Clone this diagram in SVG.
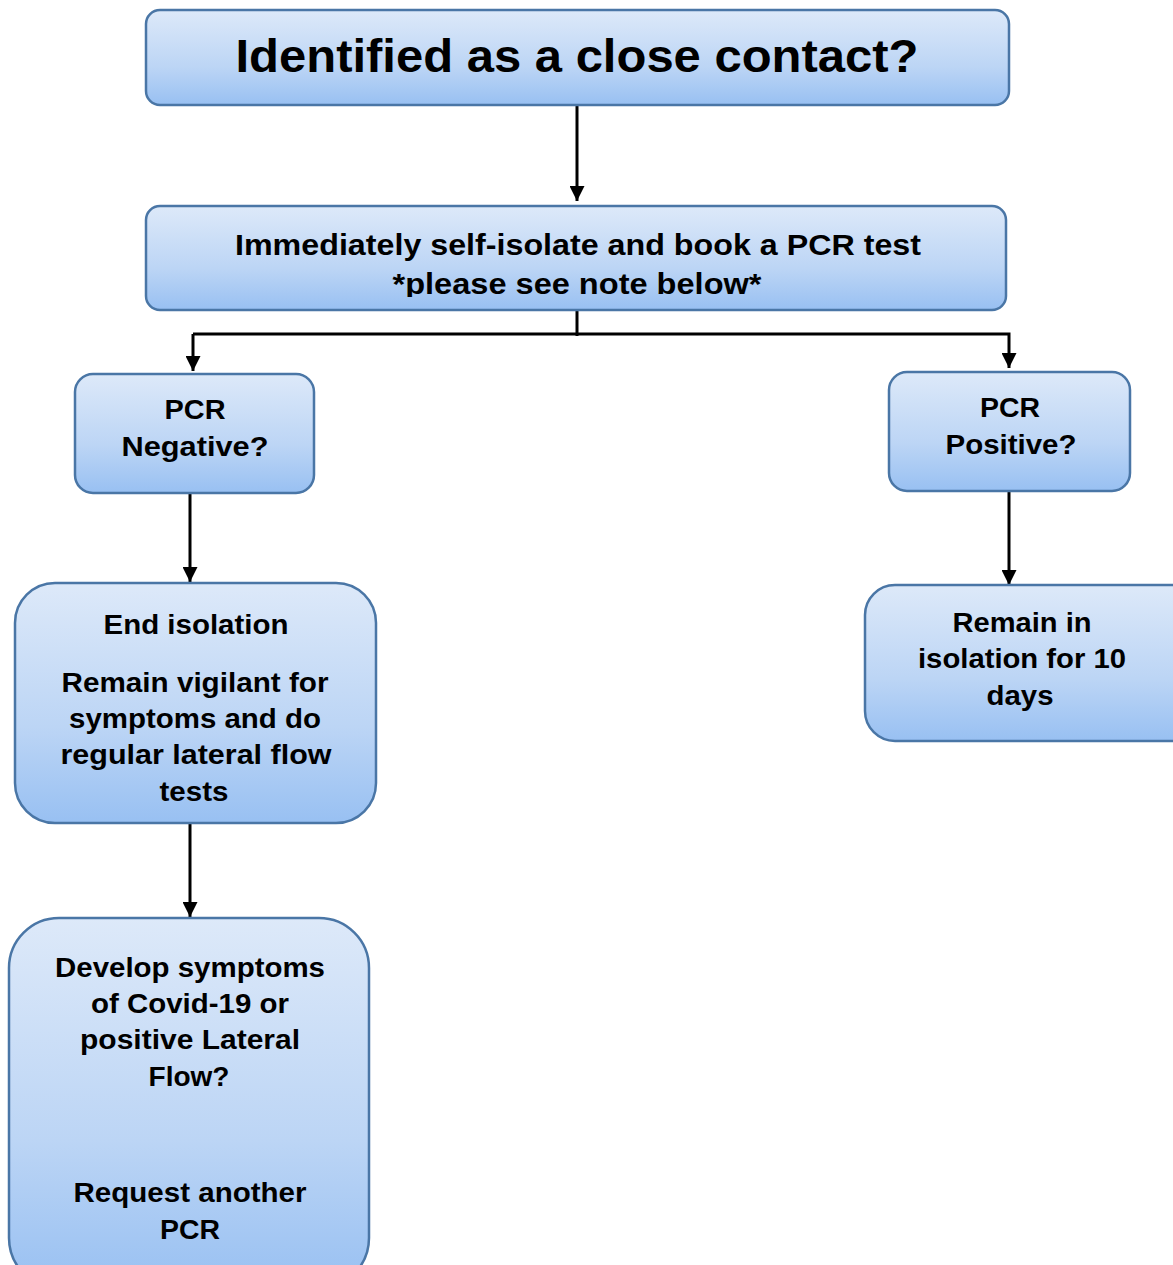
<svg xmlns="http://www.w3.org/2000/svg" width="1173" height="1265" viewBox="0 0 1173 1265">
<style>
.box{fill:url(#g);stroke:#4a76a6;stroke-width:2.5}
.t{font-family:"Liberation Sans",Arial,sans-serif;font-weight:bold;fill:#000;text-anchor:middle}
.c{stroke:#000;stroke-width:3;fill:none}
</style>
<defs>
<linearGradient id="g" x1="0" y1="0" x2="0" y2="1">
<stop offset="0" stop-color="#dde9f9"/>
<stop offset="0.6" stop-color="#bcd5f5"/>
<stop offset="1" stop-color="#98c0f2"/>
</linearGradient>
<marker id="a" viewBox="0 0 10 10" refX="10" refY="5" markerWidth="5" markerHeight="5" markerUnits="strokeWidth" orient="auto">
<path d="M0,0 L10,5 L0,10 z" fill="#000"/>
</marker>
<clipPath id="clip2"><rect x="146" y="206" width="860" height="91"/></clipPath>
</defs>
<g id="connectors">
<line class="c" x1="577" y1="106" x2="577" y2="201" marker-end="url(#a)"/>
<line class="c" x1="577" y1="310" x2="577" y2="336" stroke-width="2"/>
<polyline class="c" points="193,334 1009,334 1009,368" stroke-width="2.5" marker-end="url(#a)"/>
<line class="c" x1="193" y1="334" x2="193" y2="371" stroke-width="2.5" marker-end="url(#a)"/>
<line class="c" x1="190" y1="490" x2="190" y2="582" marker-end="url(#a)"/>
<line class="c" x1="1009" y1="491" x2="1009" y2="585" marker-end="url(#a)"/>
<line class="c" x1="190" y1="823" x2="190" y2="917" marker-end="url(#a)"/>
</g>
<g id="n1">
<rect class="box" x="146" y="10" width="863" height="95" rx="14"/>
<text class="t" x="577" y="72" font-size="46" textLength="683" lengthAdjust="spacingAndGlyphs">Identified as a close contact?</text>
</g>
<g id="n2">
<rect class="box" x="146" y="206" width="860" height="104" rx="14"/>
<text class="t" x="578" y="255" font-size="29" textLength="686" lengthAdjust="spacingAndGlyphs">Immediately self-isolate and book a PCR test</text>
<text class="t" x="577" y="294" font-size="29" textLength="369" lengthAdjust="spacingAndGlyphs" clip-path="url(#clip2)">*please see note below*</text>
</g>
<g id="n3">
<rect class="box" x="75" y="374" width="239" height="119" rx="18"/>
<text class="t" x="195" y="419" font-size="27" textLength="61" lengthAdjust="spacingAndGlyphs">PCR</text>
<text class="t" x="195" y="456" font-size="27" textLength="147" lengthAdjust="spacingAndGlyphs">Negative?</text>
</g>
<g id="n4">
<rect class="box" x="889" y="372" width="241" height="119" rx="18"/>
<text class="t" x="1010" y="417" font-size="27" textLength="60" lengthAdjust="spacingAndGlyphs">PCR</text>
<text class="t" x="1011" y="454" font-size="27" textLength="131" lengthAdjust="spacingAndGlyphs">Positive?</text>
</g>
<g id="n5">
<rect class="box" x="15" y="583" width="361" height="240" rx="40"/>
<text class="t" x="196" y="634" font-size="27" textLength="185" lengthAdjust="spacingAndGlyphs">End isolation</text>
<text class="t" x="195" y="692" font-size="27" textLength="267" lengthAdjust="spacingAndGlyphs">Remain vigilant for</text>
<text class="t" x="195" y="728" font-size="27" textLength="252" lengthAdjust="spacingAndGlyphs">symptoms and do</text>
<text class="t" x="196" y="764" font-size="27" textLength="271" lengthAdjust="spacingAndGlyphs">regular lateral flow</text>
<text class="t" x="194" y="801" font-size="27" textLength="69" lengthAdjust="spacingAndGlyphs">tests</text>
</g>
<g id="n6">
<rect class="box" x="865" y="585" width="340" height="156" rx="30"/>
<text class="t" x="1022" y="632" font-size="27" textLength="139" lengthAdjust="spacingAndGlyphs">Remain in</text>
<text class="t" x="1022" y="668" font-size="27" textLength="208" lengthAdjust="spacingAndGlyphs">isolation for 10</text>
<text class="t" x="1020" y="705" font-size="27" textLength="67" lengthAdjust="spacingAndGlyphs">days</text>
</g>
<g id="n7">
<rect class="box" x="9" y="918" width="360" height="370" rx="50"/>
<text class="t" x="190" y="977" font-size="27" textLength="270" lengthAdjust="spacingAndGlyphs">Develop symptoms</text>
<text class="t" x="190" y="1013" font-size="27" textLength="198" lengthAdjust="spacingAndGlyphs">of Covid-19 or</text>
<text class="t" x="190" y="1049" font-size="27" textLength="220" lengthAdjust="spacingAndGlyphs">positive Lateral</text>
<text class="t" x="189" y="1086" font-size="27" textLength="81" lengthAdjust="spacingAndGlyphs">Flow?</text>
<text class="t" x="190" y="1202" font-size="27" textLength="233" lengthAdjust="spacingAndGlyphs">Request another</text>
<text class="t" x="190" y="1239" font-size="27" textLength="60" lengthAdjust="spacingAndGlyphs">PCR</text>
</g>
</svg>
